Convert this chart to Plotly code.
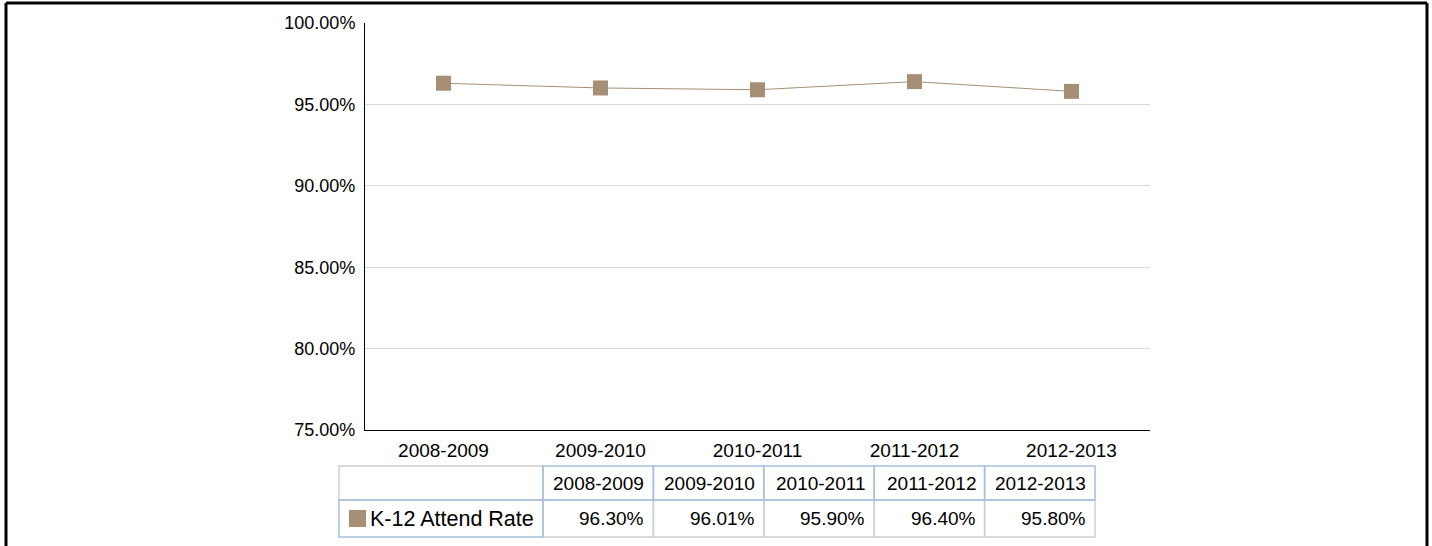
import plotly.graph_objects as go

categories = ["2008-2009", "2009-2010", "2010-2011", "2011-2012", "2012-2013"]
attend_rate = [96.30, 96.01, 95.90, 96.40, 95.80]
series_name = "K-12 Attend Rate"
y_ticks = [75, 80, 85, 90, 95, 100]

W, H = 1432, 546
FONT = "Liberation Sans, Arial, sans-serif"
COLOR = "#a68f74"

def px(x):
    return x / W

def py(y):
    return 1 - y / H

fig = go.Figure()
fig.add_trace(go.Scatter(
    x=categories, y=attend_rate, mode="lines+markers",
    line=dict(color=COLOR, width=1),
    marker=dict(symbol="square", size=15, color=COLOR, line=dict(width=0)),
    showlegend=False, hoverinfo="skip",
))

fig.update_layout(
    width=W, height=H, margin=dict(l=0, r=0, t=0, b=0, autoexpand=False),
    paper_bgcolor="white", plot_bgcolor="white",
    font=dict(family=FONT, color="#000000"),
    xaxis=dict(domain=[px(365), px(1150)], type="category", range=[-0.5, 4.5],
               showgrid=False, showline=True, linecolor="#000000", linewidth=1,
               ticks="", tickfont=dict(size=19, family=FONT, color="#000"),
               ticklabelstandoff=3, zeroline=False, fixedrange=True, automargin=False),
    yaxis=dict(domain=[py(430), py(23)], range=[75, 100], tickvals=y_ticks,
               ticktext=[f"{v:.2f}%" for v in y_ticks],
               showgrid=True, gridcolor="#d9d9d9", gridwidth=1,
               showline=True, linecolor="#000000", linewidth=1,
               ticks="", tickfont=dict(size=18, family=FONT, color="#000"),
               ticklabelstandoff=5, zeroline=False, fixedrange=True, automargin=False),
)

shapes = []
# page border
for (x0, y0, x1, y1) in [(6, 3, 6, 546), (6, 3, 1427, 3), (1427, 3, 1427, 546)]:
    shapes.append(dict(type="line", xref="paper", yref="paper",
                       x0=px(x0), y0=py(y0), x1=px(x1), y1=py(y1),
                       line=dict(color="#000000", width=3)))

# table geometry
tx0, tx1 = 339, 543
col_w = (1095 - 543) / len(categories)
ry0, ry1, ry2 = 466, 500, 537
gray = "#d0d0d0"
blue = "#a7bfdc"

def rect(x0, y0, x1, y1, color):
    shapes.append(dict(type="rect", xref="paper", yref="paper",
                       x0=px(x0), y0=py(y0), x1=px(x1), y1=py(y1),
                       line=dict(color=color, width=1.5), fillcolor="rgba(0,0,0,0)"))

rect(tx0, ry0, tx1, ry1, gray)
for i in range(len(categories)):
    rect(tx1 + i * col_w, ry1, tx1 + (i + 1) * col_w, ry2, gray)
rect(tx0, ry1, tx1, ry2, blue)
for i in range(len(categories)):
    rect(tx1 + i * col_w, ry0, tx1 + (i + 1) * col_w, ry1, blue)

# legend swatch
shapes.append(dict(type="rect", xref="paper", yref="paper",
                   x0=px(349), y0=py(510), x1=px(366), y1=py(527),
                   line=dict(width=0), fillcolor=COLOR))

annotations = []
for i, (c, v) in enumerate(zip(categories, attend_rate)):
    xr = tx1 + (i + 1) * col_w - 7
    annotations.append(dict(xref="paper", yref="paper", x=px(xr), y=py((ry0 + ry1) / 2),
                            text=c, showarrow=False, xanchor="right", yanchor="middle",
                            font=dict(size=19, family=FONT, color="#000")))
    annotations.append(dict(xref="paper", yref="paper", x=px(xr), y=py((ry1 + ry2) / 2),
                            text=f"{v:.2f}%", showarrow=False, xanchor="right", yanchor="middle",
                            font=dict(size=19, family=FONT, color="#000")))
annotations.append(dict(xref="paper", yref="paper", x=px(368), y=py((ry1 + ry2) / 2),
                        text=series_name, showarrow=False, xanchor="left", yanchor="middle",
                        font=dict(size=21.5, family=FONT, color="#000")))

fig.update_layout(shapes=shapes, annotations=annotations)
fig.write_html("out.html")
